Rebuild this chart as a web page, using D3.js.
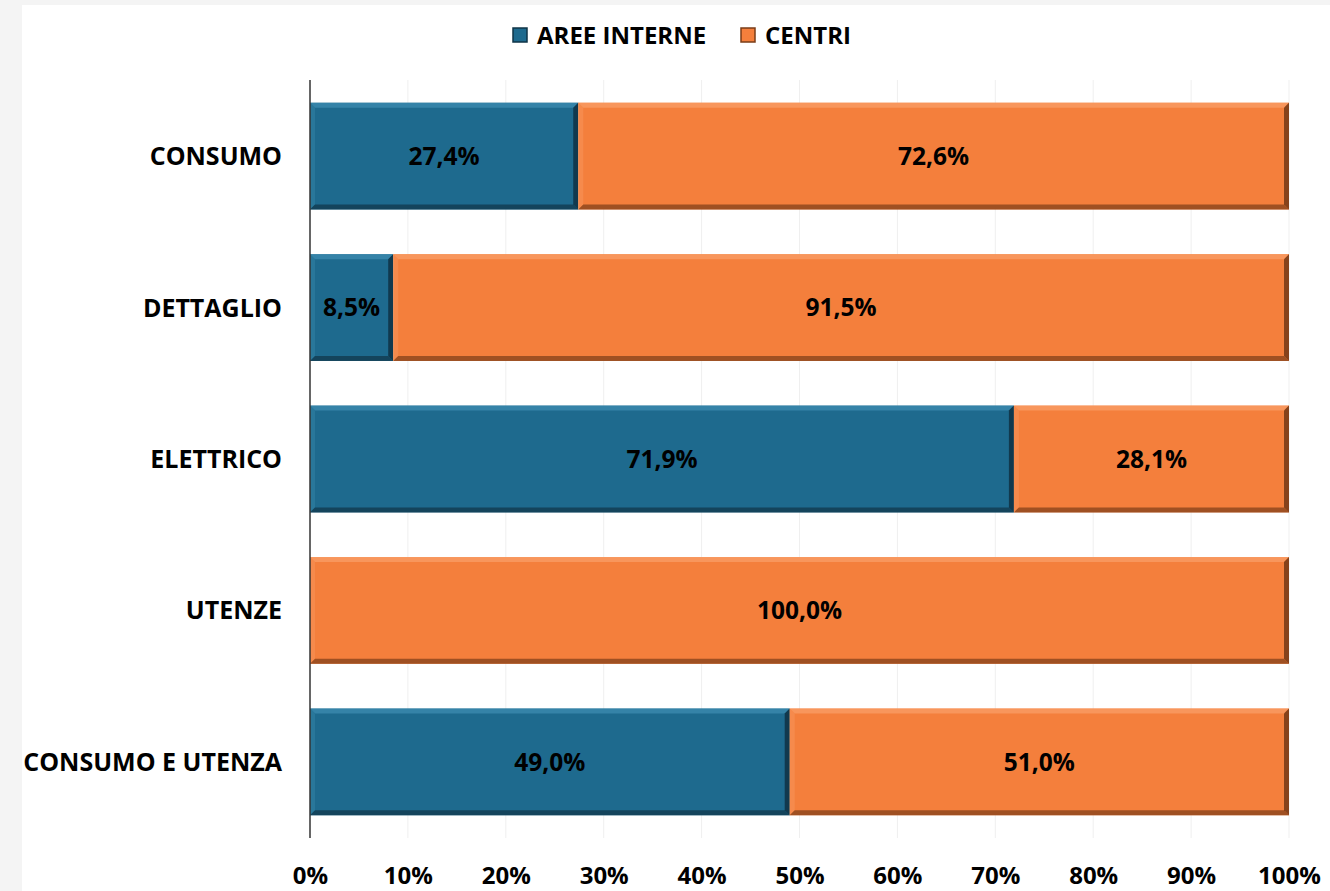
<!DOCTYPE html>
<html><head><meta charset="utf-8">
<script src="https://cdn.jsdelivr.net/npm/d3@7"></script>
<style>
html,body{margin:0;padding:0;background:#f4f4f4;}
svg{display:block;}
text{font-family:"Open Sans",sans-serif;font-weight:bold;fill:#000;}
</style></head>
<body>
<svg id="chart" width="1330" height="891"></svg>
<script>
const categories = ["CONSUMO","DETTAGLIO","ELETTRICO","UTENZE","CONSUMO E UTENZA"];
const seriesNames = ["AREE INTERNE","CENTRI"];
const areeInterne = [27.4, 8.5, 71.9, 0, 49.0];
const centri = [72.6, 91.5, 28.1, 100.0, 51.0];
const tickValues = [0,10,20,30,40,50,60,70,80,90,100];
const colors = ["#1e6a8e","#f47f3c"];
const darks = ["#0f3447","#7a3c17"];
const lights = ["#3f8fb3","#f9a06a"];

const svg = d3.select("#chart");
svg.append("rect").attr("x",22).attr("y",5).attr("width",1308).attr("height",886).attr("fill","#fff");

const x = d3.scaleLinear().domain([0,100]).range([310,1289]);
const y = d3.scaleBand().domain(categories).range([80,838]).paddingInner(0.295).paddingOuter(0.15);

// gridlines
svg.append("g").selectAll("line").data(tickValues.slice(1)).join("line")
  .attr("x1",d=>x(d)).attr("x2",d=>x(d)).attr("y1",80).attr("y2",838)
  .attr("stroke","#efefef").attr("stroke-width",1);

const fmt = v => v.toFixed(1).replace(".",",") + "%";

const stacked = categories.map((c,i)=>[
  {cat:c, s:0, x0:0, x1:areeInterne[i], v:areeInterne[i]},
  {cat:c, s:1, x0:areeInterne[i], x1:areeInterne[i]+centri[i], v:centri[i]}
]).flat().filter(d=>d.v>0);

const b = 5;
const g = svg.append("g");
stacked.forEach(d=>{
  const X0 = x(d.x0), X1 = x(d.x1), Y0 = y(d.cat), Y1 = y(d.cat)+y.bandwidth();
  const gg = g.append("g");
  gg.append("rect").attr("x",X0).attr("y",Y0).attr("width",X1-X0).attr("height",Y1-Y0).attr("fill",colors[d.s]);
  gg.append("polygon").attr("points",[[X0,Y0],[X1,Y0],[X1-b,Y0+b],[X0+b,Y0+b]].join(" ")).attr("fill",lights[d.s]).attr("opacity",0.7);
  gg.append("polygon").attr("points",[[X0,Y0],[X0+b,Y0+b],[X0+b,Y1-b],[X0,Y1]].join(" ")).attr("fill",lights[d.s]).attr("opacity",0.35);
  gg.append("polygon").attr("points",[[X0,Y1],[X0+b,Y1-b],[X1-b,Y1-b],[X1,Y1]].join(" ")).attr("fill",darks[d.s]).attr("opacity",0.7);
  gg.append("polygon").attr("points",[[X1,Y0],[X1,Y1],[X1-b,Y1-b],[X1-b,Y0+b]].join(" ")).attr("fill",darks[d.s]).attr("opacity",0.9);
  gg.append("text").attr("x",(X0+X1)/2).attr("y",(Y0+Y1)/2).attr("dy","0.36em")
    .attr("text-anchor","middle").attr("font-size",24.5).text(fmt(d.v));
});

// y axis line
svg.append("line").attr("x1",310).attr("x2",310).attr("y1",80).attr("y2",838).attr("stroke","#333").attr("stroke-width",1.5);

// category labels
svg.append("g").selectAll("text").data(categories).join("text")
  .attr("x",282).attr("y",d=>y(d)+y.bandwidth()/2).attr("dy","0.36em")
  .attr("text-anchor","end").attr("font-size",25).text(d=>d);

// x axis labels
const xAxis = d3.axisBottom(x).tickValues(tickValues).tickFormat(d=>d+"%").tickSize(0).tickPadding(0);
const ax = svg.append("g").attr("transform","translate(0,867)").call(xAxis);
ax.select(".domain").remove();
ax.selectAll("text").attr("dy","0.71em").attr("font-size",24).attr("font-family","'Open Sans',sans-serif").attr("fill","#000").attr("font-weight","bold");

// legend
const leg = svg.append("g");
const legItems = [{name:seriesNames[0], x:513, c:0},{name:seriesNames[1], x:741, c:1}];
legItems.forEach(l=>{
  leg.append("rect").attr("x",l.x).attr("y",28).attr("width",14).attr("height",14).attr("fill",colors[l.c]).attr("stroke",darks[l.c]).attr("stroke-width",1.5);
  leg.append("text").attr("x",l.x+24).attr("y",35).attr("dy","0.36em").attr("font-size",24).text(l.name);
});
</script>
</body></html>
